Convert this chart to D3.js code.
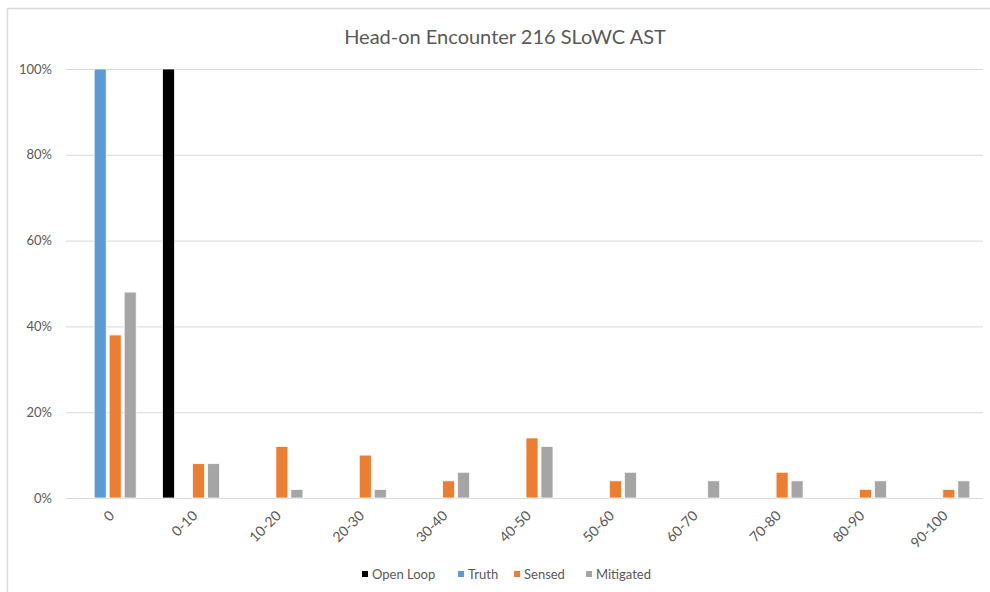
<!DOCTYPE html>
<html>
<head>
<meta charset="utf-8">
<script src="https://cdn.jsdelivr.net/npm/d3@7"></script>
<style>
  html, body { margin: 0; padding: 0; background: #fff; }
  svg { display: block; font-family: Lato, "Open Sans", sans-serif; }
</style>
</head>
<body>
<svg id="chart" width="990" height="592"></svg>
<script>
// Distance bins and the share of runs falling in each bin, per configuration
const categories = ["0", "0-10", "10-20", "20-30", "30-40", "40-50", "50-60", "60-70", "70-80", "80-90", "90-100"];
const seriesNames = ["Open Loop", "Truth", "Sensed", "Mitigated"];
const openLoop  = [0, 100, 0, 0, 0, 0, 0, 0, 0, 0, 0];
const truth     = [100, 0, 0, 0, 0, 0, 0, 0, 0, 0, 0];
const sensed    = [38, 8, 12, 10, 4, 14, 4, 0, 6, 2, 2];
const mitigated = [48, 8, 2, 2, 6, 12, 6, 4, 4, 4, 4];
const yTicks = [0, 20, 40, 60, 80, 100];
const colors = ["#000000", "#5B9BD5", "#ED7D31", "#A5A5A5"];

const seriesValues = [openLoop, truth, sensed, mitigated];
const rows = categories.map((c, i) => ({
  cat: c,
  vals: seriesNames.map((s, j) => ({ series: s, idx: j, value: seriesValues[j][i] }))
}));

const svg = d3.select("#chart");
const plot = { left: 66, right: 983, top: 69, bottom: 498 };

// outer chart frame
svg.append("path")
  .attr("d", "M7.5,592 V8.5 H990")
  .attr("fill", "none")
  .attr("stroke", "#d9d9d9")
  .attr("stroke-width", 1.5);

// title
svg.append("text")
  .attr("x", 505).attr("y", 44)
  .attr("text-anchor", "middle")
  .attr("font-size", 20)
  .attr("fill", "#595959")
  .text("Head-on Encounter 216 SLoWC AST");

const x0 = d3.scaleBand().domain(categories).range([plot.left, plot.right]);
const x1 = d3.scaleBand().domain(seriesNames).range([0, x0.bandwidth()])
  .paddingInner(0.2).paddingOuter(0.88);
const y = d3.scaleLinear().domain([0, 100]).range([plot.bottom, plot.top]);

// gridlines
svg.append("g")
  .selectAll("line")
  .data(yTicks)
  .join("line")
  .attr("x1", plot.left).attr("x2", plot.right)
  .attr("y1", d => y(d) + 0.5).attr("y2", d => y(d) + 0.5)
  .attr("stroke", "#d9d9d9")
  .attr("stroke-width", 1);

// y axis labels
const yAxis = d3.axisLeft(y).tickValues(yTicks).tickFormat(d => d + "%").tickSize(0).tickPadding(14);
const gy = svg.append("g").attr("transform", `translate(${plot.left},0)`).call(yAxis);
gy.select(".domain").remove();
gy.selectAll("text")
  .attr("fill", "#595959")
  .attr("font-size", 13)
  .attr("font-family", "Lato, 'Open Sans', sans-serif");

// x axis labels, rotated
const xAxis = d3.axisBottom(x0).tickSize(0).tickPadding(0);
const gx = svg.append("g").attr("transform", `translate(0,${plot.bottom})`).call(xAxis);
gx.select(".domain").remove();
gx.selectAll("text")
  .attr("fill", "#595959")
  .attr("font-size", 14)
  .attr("font-family", "Lato, 'Open Sans', sans-serif")
  .attr("text-anchor", "end")
  .attr("dy", "0.35em")
  .attr("transform", "translate(4,15) rotate(-45)");

// bars
svg.append("g")
  .selectAll("g")
  .data(rows)
  .join("g")
  .attr("transform", d => `translate(${x0(d.cat)},0)`)
  .selectAll("rect")
  .data(d => d.vals.filter(v => v.value > 0))
  .join("rect")
  .attr("x", d => x1(d.series))
  .attr("width", x1.bandwidth())
  .attr("y", d => y(d.value))
  .attr("height", d => y(0) - y(d.value))
  .attr("fill", d => colors[d.idx])
  .attr("stroke", "#ffffff")
  .attr("stroke-width", 0.75);

// legend
const legendX = [362, 458, 514, 586];
const legend = svg.append("g");
seriesNames.forEach((s, i) => {
  legend.append("rect")
    .attr("x", legendX[i]).attr("y", 571)
    .attr("width", 6).attr("height", 6)
    .attr("fill", colors[i]);
  legend.append("text")
    .attr("x", legendX[i] + 10).attr("y", 578.5)
    .attr("font-size", 13)
    .attr("fill", "#595959")
    .text(s);
});
</script>
</body>
</html>
